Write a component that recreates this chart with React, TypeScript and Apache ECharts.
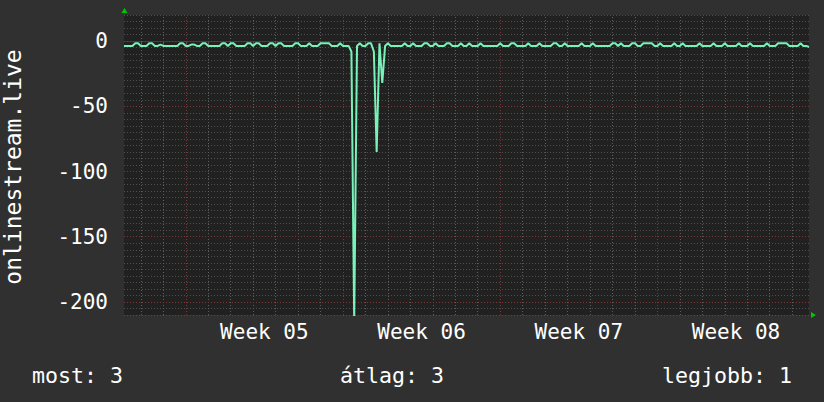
import React, { useEffect, useRef } from "react";
import * as echarts from "echarts";

// x axis in days, 0 = start of Week 05
const START_DAY = -2.75;
const END_DAY = 27.75;
const STEP_DAY = 0.125;

const values = [
  -3.7, -3.7, -3.7, -3.7, -1.7, -1.7, -3.7, -3.7, -3.7, -1.7,
  -1.7, -3.7, -3.7, -2.7, -3.7, -3.7, -3.7, -3.7, -3.7, -3.7,
  -1.7, -1.7, -3.7, -3.7, -2.7, -2.7, -3.7, -3.7, -1.7, -1.7,
  -3.7, -3.7, -3.7, -3.7, -3.7, -1.7, -1.7, -3.7, -1.7, -1.7,
  -3.7, -3.7, -3.7, -3.7, -1.7, -1.7, -3.7, -1.7, -1.7, -3.7,
  -3.7, -3.7, -1.7, -1.7, -3.7, -1.7, -1.7, -3.7, -3.7, -3.7,
  -3.7, -1.7, -1.7, -3.7, -3.7, -3.7, -1.7, -3.7, -3.7, -3.7,
  -1.7, -1.7, -1.7, -1.7, -3.7, -3.7, -3.7, -1.7, -3.7, -3.7,
  -3.7, -8, -215, -3.7, -1.7, -3.7, -3.7, -1.7, -1.7, -8,
  -85, -1.7, -32, -3.7, -1.7, -3.7, -3.7, -3.7, -3.7, -3.7,
  -1.7, -3.7, -3.7, -1.7, -3.7, -3.7, -3.7, -1.7, -1.7, -3.7,
  -3.7, -1.7, -3.7, -3.7, -3.7, -1.7, -1.7, -3.7, -3.7, -3.7,
  -1.7, -3.7, -3.7, -1.7, -3.7, -3.7, -3.7, -1.7, -3.7, -3.7,
  -3.7, -3.7, -3.7, -3.7, -1.7, -3.7, -3.7, -3.7, -1.7, -1.7,
  -3.7, -3.7, -3.7, -3.7, -1.7, -3.7, -3.7, -3.7, -1.7, -3.7,
  -3.7, -3.7, -3.7, -1.7, -1.7, -3.7, -3.7, -1.7, -3.7, -3.7,
  -3.7, -3.7, -3.7, -1.7, -3.7, -3.7, -3.7, -1.7, -3.7, -3.7,
  -3.7, -3.7, -3.7, -3.7, -1.7, -1.7, -3.7, -1.7, -3.7, -3.7,
  -3.7, -1.7, -1.7, -3.7, -3.7, -1.7, -1.7, -1.7, -1.7, -3.7,
  -3.7, -1.7, -3.7, -3.7, -3.7, -3.7, -1.7, -3.7, -3.7, -1.7,
  -3.7, -3.7, -3.7, -3.7, -3.7, -1.7, -3.7, -3.7, -3.7, -3.7,
  -1.7, -3.7, -3.7, -3.7, -1.7, -3.7, -3.7, -3.7, -3.7, -1.7,
  -3.7, -3.7, -3.7, -1.7, -3.7, -3.7, -3.7, -3.7, -3.7, -1.7,
  -3.7, -3.7, -3.7, -1.7, -1.7, -1.7, -1.7, -3.7, -3.7, -3.7,
  -3.7, -1.7, -3.7, -3.7, -4.5,
];

const weekStarts = [0, 7, 14, 21];
const weekLabelPos = [3.5, 10.5, 17.5, 24.5];
const weekLabels = ["Week 05", "Week 06", "Week 07", "Week 08"];
const dayLines = [
  -2, -1, 1, 2, 3, 4, 5, 6, 8, 9, 10, 11, 12, 13, 15, 16, 17, 18, 19, 20, 22,
  23, 24, 25, 26, 27,
];
const yTickLabels = [-200, -150, -100, -50, 0];
const Y_MIN = -210;
const Y_MAX = 20;
const Y_MINOR = 5;

const axisTitle = "onlinestream.live";
const footerNow = "most: 3";
const footerAvg = "átlag: 3";
const footerMax = "legjobb: 1";

const FONT = "DejaVu Sans Mono";
const MINOR = "#4e4e4e";
const MINOR_V = "#5e5e5e";
const MAJOR = "#763838";

export default function App() {
  const ref = useRef<HTMLDivElement>(null);
  useEffect(() => {
    if (!ref.current) return;
    const chart = echarts.init(ref.current, null, { renderer: "svg" });
    const lineData = values.map((v, i) => [START_DAY + i * STEP_DAY, v]);
    const gridMarks: any[] = [];
    dayLines.forEach((d) =>
      gridMarks.push({ xAxis: d, lineStyle: { color: MINOR_V, type: [1, 2], width: 1 } })
    );
    weekStarts.forEach((d) =>
      gridMarks.push({ xAxis: d, lineStyle: { color: MAJOR, type: [1, 2], width: 1 } })
    );
    yTickLabels.forEach((v) =>
      gridMarks.push({ yAxis: v, lineStyle: { color: MAJOR, type: [1, 2], width: 1 } })
    );
    chart.setOption({
      animation: false,
      backgroundColor: "#303030",
      grid: {
        left: 124,
        right: 15,
        top: 15,
        bottom: 87,
        show: true,
        backgroundColor: "#212121",
        borderWidth: 0,
      },
      xAxis: {
        type: "value",
        min: START_DAY,
        max: END_DAY,
        axisLine: { show: true, lineStyle: { color: "#3c3c3c" } },
        axisTick: {
          show: true,
          customValues: dayLines.concat(weekStarts),
          length: 3,
          lineStyle: { color: "#5a5a5a" },
        },
        splitLine: { show: false },
        axisLabel: {
          customValues: weekLabelPos,
          formatter: (v: number) => {
            const i = weekLabelPos.findIndex((p) => Math.abs(p - v) < 1e-6);
            return i >= 0 ? weekLabels[i] : "";
          },
          color: "#ffffff",
          fontFamily: FONT,
          fontSize: 21,
          margin: 6,
        },
      },
      yAxis: {
        type: "value",
        min: Y_MIN,
        max: Y_MAX,
        interval: Y_MINOR,
        axisLine: { show: false },
        axisTick: { show: false },
        splitLine: { show: true, lineStyle: { color: MINOR, type: [1, 2], width: 1 } },
        axisLabel: {
          customValues: yTickLabels,
          color: "#ffffff",
          fontFamily: FONT,
          fontSize: 21,
          margin: 16,
        },
      },
      series: [
        {
          type: "line",
          data: lineData,
          showSymbol: false,
          symbol: "none",
          silent: true,
          z: 1,
          lineStyle: { width: 0, opacity: 0 },
          markLine: {
            silent: true,
            symbol: "none",
            z: 1,
            label: { show: false },
            data: gridMarks,
          },
        },
        {
          type: "line",
          data: lineData,
          showSymbol: false,
          symbol: "none",
          z: 3,
          lineStyle: { color: "#78f2b8", width: 2 },
        },
      ],
      graphic: [
        {
          type: "polygon",
          shape: { points: [[121.5, 13], [127.5, 13], [124.5, 8]] },
          style: { fill: "#00c800" },
        },
        {
          type: "polygon",
          shape: { points: [[811, 312], [811, 318], [816, 315]] },
          style: { fill: "#00c800" },
        },
        {
          type: "text",
          x: 13,
          y: 167,
          rotation: Math.PI / 2,
          style: {
            text: axisTitle,
            fill: "#ffffff",
            font: `23px '${FONT}'`,
            textAlign: "center",
            textVerticalAlign: "middle",
          },
        },
        {
          type: "text",
          x: 32,
          y: 375,
          style: {
            text: footerNow,
            fill: "#ffffff",
            font: `21.6px '${FONT}'`,
            textAlign: "left",
            textVerticalAlign: "middle",
          },
        },
        {
          type: "text",
          x: 392,
          y: 375,
          style: {
            text: footerAvg,
            fill: "#ffffff",
            font: `21.6px '${FONT}'`,
            textAlign: "center",
            textVerticalAlign: "middle",
          },
        },
        {
          type: "text",
          x: 792,
          y: 375,
          style: {
            text: footerMax,
            fill: "#ffffff",
            font: `21.6px '${FONT}'`,
            textAlign: "right",
            textVerticalAlign: "middle",
          },
        },
      ],
    });
    return () => chart.dispose();
  }, []);
  return (
    <div
      ref={ref}
      style={{ position: "fixed", left: 0, top: 0, width: 824, height: 402 }}
    />
  );
}
